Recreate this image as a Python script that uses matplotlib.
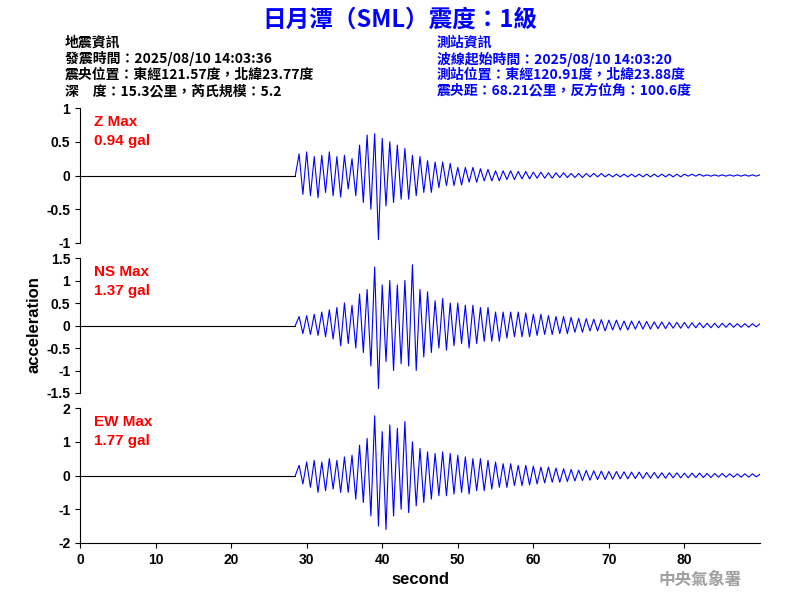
import numpy as np
import matplotlib
matplotlib.use("Agg")
import matplotlib.pyplot as plt

plt.rcParams['font.family'] = ['Noto Sans CJK TC', 'DejaVu Sans']

title = "日月潭（SML）震度：1級"
left_info = ["地震資訊", "發震時間：2025/08/10 14:03:36", "震央位置：東經121.57度，北緯23.77度", "深　度：15.3公里，芮氏規模：5.2"]
right_info = ["測站資訊", "波線起始時間：2025/08/10 14:03:20", "測站位置：東經120.91度，北緯23.88度", "震央距：68.21公里，反方位角：100.6度"]
labels = ["Z Max\n0.94 gal", "NS Max\n1.37 gal", "EW Max\n1.77 gal"]
t_start = 28.5
dt = 0.5

z_vals = [0, 0.32, -0.28, 0.35, -0.3, 0.28, -0.33, 0.3, -0.25, 0.35, -0.3, 0.28, -0.32, 0.3, -0.2,
          0.25, -0.3, 0.45, -0.4, 0.6, -0.5, 0.62, -0.95, 0.55, -0.45, 0.5, -0.4, 0.45, -0.35, 0.4,
          -0.35, 0.3, -0.3, 0.28, -0.25, 0.22, -0.25, 0.2, -0.18, 0.2, -0.15, 0.18, -0.15, 0.12, -0.14,
          0.12, -0.1, 0.12, -0.1, 0.1, -0.08, 0.09, -0.08, 0.07, -0.08, 0.07, -0.06, 0.07, -0.06, 0.06,
          -0.05, 0.06, -0.05, 0.05, -0.04, 0.05, -0.04, 0.04, -0.04, 0.04, -0.03, 0.04, -0.03, 0.03, -0.03,
          0.03, -0.03, 0.03, -0.02, 0.03, -0.02, 0.03, -0.02, 0.02, -0.02, 0.02, -0.02, 0.02, -0.02, 0.02,
          -0.02, 0.02, -0.02, 0.02, -0.02, 0.02, -0.02, 0.02, -0.02, 0.02, -0.02, 0.02, -0.02, 0.02, -0.01,
          0.02, -0.01, 0.02, -0.01, 0.01, -0.01, 0.01, -0.01, 0.01, -0.01, 0.01, -0.01, 0.01, -0.01, 0.01,
          -0.01, 0.01, -0.01, 0.01, 0]
ns_vals = [0, 0.2, -0.18, 0.22, -0.2, 0.25, -0.22, 0.3, -0.25, 0.35, -0.3, 0.4, -0.45, 0.5, -0.4,
           0.45, -0.5, 0.7, -0.6, 0.8, -0.9, 1.3, -1.4, 0.9, -0.8, 1.0, -1.0, 0.9, -0.85, 1.0,
           -0.9, 1.35, -1.0, 0.8, -0.7, 0.75, -0.6, 0.55, -0.5, 0.6, -0.55, 0.5, -0.45, 0.5, -0.4,
           0.45, -0.5, 0.45, -0.4, 0.4, -0.35, 0.4, -0.35, 0.3, -0.35, 0.3, -0.28, 0.3, -0.25, 0.3,
           -0.25, 0.28, -0.25, 0.25, -0.22, 0.25, -0.2, 0.22, -0.2, 0.2, -0.18, 0.2, -0.18, 0.18, -0.15,
           0.16, -0.15, 0.15, -0.12, 0.14, -0.12, 0.13, -0.12, 0.12, -0.1, 0.12, -0.1, 0.1, -0.1, 0.1,
           -0.08, 0.1, -0.08, 0.09, -0.08, 0.08, -0.07, 0.08, -0.07, 0.07, -0.06, 0.07, -0.06, 0.07, -0.06,
           0.06, -0.05, 0.06, -0.05, 0.05, -0.05, 0.05, -0.05, 0.05, -0.04, 0.05, -0.04, 0.04, -0.04, 0.04,
           -0.04, 0.04, -0.03, 0.04, 0]
ew_vals = [0, 0.3, -0.25, 0.4, -0.35, 0.45, -0.5, 0.4, -0.45, 0.5, -0.4, 0.45, -0.5, 0.55, -0.5,
           0.6, -0.7, 0.9, -0.8, 1.1, -1.2, 1.77, -1.5, 1.3, -1.6, 1.5, -1.2, 1.4, -1.0, 1.6,
           -1.1, 1.0, -0.9, 0.8, -0.8, 0.7, -0.7, 0.65, -0.6, 0.7, -0.6, 0.65, -0.55, 0.6, -0.5,
           0.55, -0.55, 0.5, -0.45, 0.5, -0.45, 0.45, -0.4, 0.4, -0.35, 0.35, -0.35, 0.35, -0.3, 0.3,
           -0.3, 0.3, -0.28, 0.28, -0.25, 0.25, -0.22, 0.25, -0.2, 0.22, -0.2, 0.2, -0.18, 0.18, -0.16,
           0.16, -0.15, 0.15, -0.14, 0.14, -0.12, 0.13, -0.12, 0.12, -0.11, 0.12, -0.1, 0.11, -0.1, 0.1,
           -0.09, 0.1, -0.09, 0.09, -0.08, 0.09, -0.08, 0.08, -0.08, 0.08, -0.07, 0.08, -0.07, 0.07, -0.07,
           0.07, -0.06, 0.07, -0.06, 0.06, -0.06, 0.06, -0.05, 0.06, -0.05, 0.05, -0.05, 0.05, -0.05, 0.05,
           -0.05, 0.05, -0.04, 0.04, 0]
series = [z_vals, ns_vals, ew_vals]
ylims = [(-1, 1), (-1.5, 1.5), (-2, 2)]
yticks = [[-1, -0.5, 0, 0.5, 1], [-1.5, -1, -0.5, 0, 0.5, 1, 1.5], [-2, -1, 0, 1, 2]]
yticklabels = [["-1", "-0.5", "0", "0.5", "1"], ["-1.5", "-1", "-0.5", "0", "0.5", "1", "1.5"], ["-2", "-1", "0", "1", "2"]]

fig = plt.figure(figsize=(8, 6), dpi=100)
W, H = 800, 600
panels = [(108, 243), (258, 393), (408, 543)]
for i, (top, bot) in enumerate(panels):
    ax = fig.add_axes([80 / W, 1 - bot / H, 680 / W, (bot - top) / H])
    v = np.array(series[i])
    t = t_start + dt * np.arange(len(v))
    ax.plot([0, t_start], [0, 0], color='black', lw=0.8)
    ax.plot(t, v, color='blue', lw=0.8)
    ax.set_xlim(0, 90)
    ax.set_ylim(*ylims[i])
    ax.set_yticks(yticks[i])
    ax.set_yticklabels(yticklabels[i], fontsize=10, family='Liberation Sans', fontweight='bold')
    for s in ['top', 'right']:
        ax.spines[s].set_visible(False)
    if i < 2:
        ax.spines['bottom'].set_visible(False)
        ax.set_xticks([])
    else:
        ax.set_xticks(range(0, 90, 10))
        ax.set_xticklabels([str(x) for x in range(0, 90, 10)], fontsize=10,
                           family='Liberation Sans', fontweight='bold')
        ax.set_xlabel("second", fontsize=12, fontweight='bold', family='Liberation Sans')
    ax.text(0.02, 0.95, labels[i], transform=ax.transAxes, color='red', fontsize=11,
            va='top', ha='left', family='Liberation Sans', fontweight='bold', linespacing=1.5)

fig.text(0.042, 1 - 325 / H, "acceleration", rotation=90, ha='center', va='center',
         fontsize=12, fontweight='bold', family='Liberation Sans')
fig.text(400 / W, 1 - 20 / H, title, ha='center', va='center', color='blue', fontsize=17, fontweight='bold')
for k, line in enumerate(left_info):
    fig.text(65 / W, 1 - (43 + 16 * k) / H, line, ha='left', va='center', fontsize=10, fontweight='bold', color='black')
for k, line in enumerate(right_info):
    fig.text(437 / W, 1 - (43 + 16 * k) / H, line, ha='left', va='center', fontsize=10, fontweight='bold', color='blue')
fig.text(700 / W, 1 - 580 / H, "中央氣象署", ha='center', va='center', fontsize=12, fontweight='bold', color='#a0a0a0')
fig.savefig("out.png", dpi=100)
